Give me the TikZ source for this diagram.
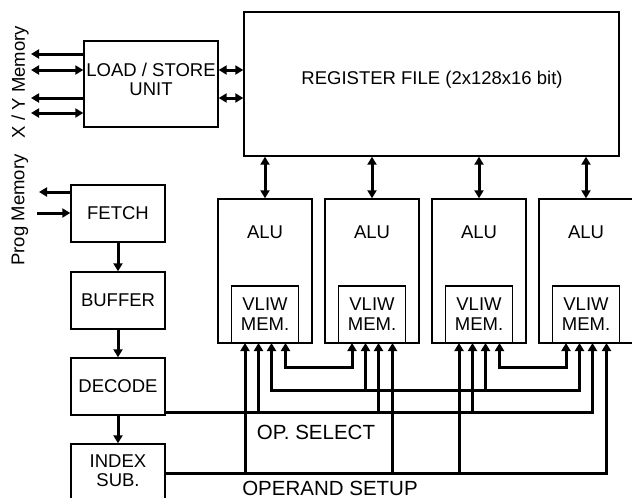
\documentclass[tikz,border=0pt]{standalone}
\usepackage{fontspec}
\setmainfont{Liberation Sans}
\usetikzlibrary{arrows.meta,calc}
\begin{document}
\begin{tikzpicture}[x=1pt,y=-1pt,
  >={Triangle[length=8pt,width=9pt]},
  box/.style={draw=black,line width=1.4pt,rectangle,inner sep=0pt},
  txt/.style={font=\fontsize{18.5}{19}\selectfont,align=center,inner sep=0pt},
  big/.style={font=\fontsize{20.5}{22}\selectfont,inner sep=0pt},
  wire/.style={line width=3pt}]
\clip (0,0) rectangle (632,498);
\fill[white] (0,0) rectangle (632,498);
% left column
\node[box,minimum width=134pt,minimum height=86pt] (lsu) at (151,84) {};
\node[txt] (lsut) at (151,79) {LOAD / STORE\\UNIT};
\node[box,minimum width=375pt,minimum height=144pt] (rf) at (431.5,84) {};
\node[txt] (rft) at (432,80) {REGISTER FILE (2x128x16 bit)};
\node[box,minimum width=94pt,minimum height=57pt,txt] (fetch) at (118,213.5) {FETCH};
\node[box,minimum width=94pt,minimum height=57pt,txt] (buffer) at (118,300.5) {BUFFER};
\node[box,minimum width=94pt,minimum height=57pt,txt] (decode) at (118,386.5) {DECODE};
\node[box,minimum width=94pt,minimum height=70pt] (index) at (118,479) {};
\node[txt] (indext) at (118,471) {INDEX\\SUB.};
\node[txt,rotate=90] (xymem) at (20,82) {X / Y Memory};
\node[txt,rotate=90] (progmem) at (20,210) {Prog Memory};
% ALUs
\foreach \i/\c in {1/265,2/372,3/479,4/586}{
  \node[box,minimum width=94pt,minimum height=144pt] (alu\i) at (\c,271) {};
  \node[txt] (alut\i) at (\c,232) {ALU};
  \node[box,minimum width=67pt,minimum height=57pt,txt,font=\fontsize{18.5}{20}\selectfont] (mem\i) at (\c,314.5) {VLIW\\MEM.};
  \coordinate (a\i i1) at (\c-20,343);
  \coordinate (a\i i2) at (\c-6.5,343);
  \coordinate (a\i i3) at (\c+6.5,343);
  \coordinate (a\i i4) at (\c+20.5,343);
  \draw[wire,<->] (rf.south -| alu\i) -- (alu\i.north);
}
% memory ports
\coordinate (xy1) at (31,54);
\coordinate (xy2) at (31,70);
\coordinate (xy3) at (31,98);
\coordinate (xy4) at (31,113);
\draw[wire,->] (lsu.west |- xy1) -- (xy1);
\draw[wire,<->] (xy2) -- (lsu.west |- xy2);
\draw[wire,->] (lsu.west |- xy3) -- (xy3);
\draw[wire,<->] (xy4) -- (lsu.west |- xy4);
\draw[wire,<->] (lsu.east |- xy2) -- (rf.west |- xy2);
\draw[wire,<->] (lsu.east |- xy3) -- (rf.west |- xy3);
\coordinate (pm1) at (39,192);
\coordinate (pm2) at (37,213);
\draw[wire,->] (fetch.west |- pm1) -- (pm1);
\draw[wire,->] (pm2) -- (fetch.west |- pm2);
\draw[wire,->] (fetch) -- (buffer);
\draw[wire,->] (buffer) -- (decode);
\draw[wire,->] (decode) -- (index);
% buses
\coordinate (yA) at (0,367);
\coordinate (yB) at (0,390);
\coordinate (yC) at (0,412);
\coordinate (yD) at (0,473);
\draw[wire,<->] (a1i4) -- (a1i4 |- yA) -- (a2i1 |- yA) -- (a2i1);
\draw[wire,<->] (a3i4) -- (a3i4 |- yA) -- (a4i1 |- yA) -- (a4i1);
\draw[wire,<->] (a1i3) -- (a1i3 |- yB) -- (a4i2 |- yB) -- (a4i2);
\draw[wire,->] (a2i2 |- yB) -- (a2i2);
\draw[wire,->] (a3i3 |- yB) -- (a3i3);
\draw[wire,->] (decode.east |- yC) -- (a4i3 |- yC) -- (a4i3);
\draw[wire,->] (a1i2 |- yC) -- (a1i2);
\draw[wire,->] (a2i3 |- yC) -- (a2i3);
\draw[wire,->] (a3i2 |- yC) -- (a3i2);
\draw[wire,->] (index.east |- yD) -- (a4i4 |- yD) -- (a4i4);
\draw[wire,->] (a1i1 |- yD) -- (a1i1);
\draw[wire,->] (a2i4 |- yD) -- (a2i4);
\draw[wire,->] (a3i1 |- yD) -- (a3i1);
\node[big] (opsel) at (316,432) {OP. SELECT};
\node[big] (opset) at (330,488) {OPERAND SETUP};
\end{tikzpicture}
\end{document}
